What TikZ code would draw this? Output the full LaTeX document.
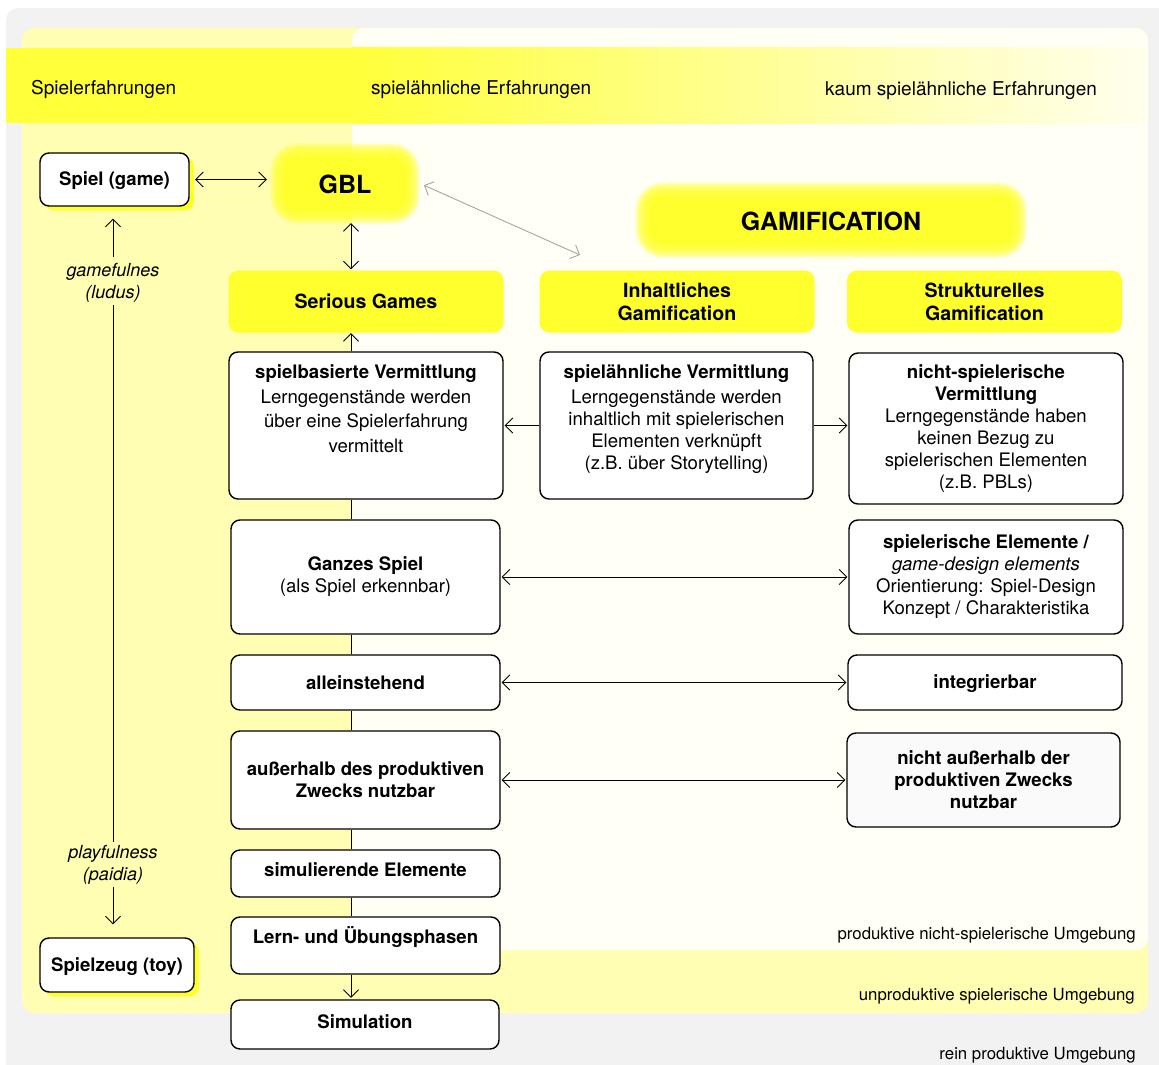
\documentclass[tikz,border=0pt]{standalone}
\usepackage{fontspec}
\setmainfont{TeX Gyre Heros}
\usetikzlibrary{arrows.meta,shadows}

\definecolor{ybright}{RGB}{255,255,46}
\definecolor{yband}{RGB}{255,255,58}
\definecolor{ypale}{RGB}{255,254,178}
\definecolor{cream}{RGB}{255,255,245}
\definecolor{bandend}{RGB}{255,255,238}
\definecolor{bggray}{RGB}{242,242,242}
\definecolor{arrgray}{RGB}{165,165,165}
\definecolor{boxgray}{RGB}{250,250,250}

\newcommand{\bodyfont}{\fontsize{18.6}{22}\selectfont}

\begin{document}
\begin{tikzpicture}[x=1pt,y=-1pt,
  box/.style={draw=black, line width=1.4pt, fill=white, rounded corners=9pt,
    align=center, inner sep=0pt, font=\bodyfont},
  headbox/.style={fill=ybright, rounded corners=10pt, align=center, inner sep=0pt,
    minimum width=275pt, minimum height=62pt,
    font=\bfseries\fontsize{19.6}{23}\selectfont},
  glowtext/.style={inner sep=0pt, font=\bfseries\fontsize{25}{28}\selectfont},
  bandtext/.style={inner sep=0pt, anchor=base west, font=\fontsize{19}{22}\selectfont},
  envtext/.style={inner sep=0pt, anchor=east, font=\fontsize{16.8}{20}\selectfont},
  sidelabel/.style={inner sep=3pt, align=center, font=\itshape\fontsize{18}{22}\selectfont},
  yshadow/.style={drop shadow={fill=ybright, opacity=1, shadow xshift=5pt, shadow yshift=-4.5pt}},
  tip/.tip={Straight Barb[length=7.5pt,width=15pt]},
  conn/.style={line width=0.9pt},
  biarr/.style={conn, tip-tip},
  onearr/.style={conn, -tip},
]
\useasboundingbox (0,0) rectangle (1159,1065);
\clip (0,0) rectangle (1159,1065);

% ---------- backgrounds: environments ----------
\fill[white] (0,0) rectangle (1159,1065);
\fill[bggray, rounded corners=12pt] (6,8) rectangle (1180,1090);
\fill[ypale, rounded corners=12pt] (22,28) rectangle (1148,1013);
\fill[cream, rounded corners=12pt] (352,28) rectangle (1148,950);

% ---------- experience band ----------
\fill[yband] (6,48) rectangle (353,123);
\shade[left color=yband, right color=bandend] (352,48) rectangle (1148,123);
\node[bandtext] (b1) at (31,94.5) {Spielerfahrungen};
\node[bandtext] (b2) at (371,94.5) {spielähnliche Erfahrungen};
\node[bandtext] (b3) at (825,95.5) {kaum spielähnliche Erfahrungen};

% ---------- soft glows ----------
\foreach \d in {0.7,1.4,...,14.1} {
  \pgfmathsetmacro\r{14+\d}
  \fill[ybright, opacity=0.12, rounded corners=\r pt] ({284-\d},{157-\d}) rectangle ({406+\d},{210+\d});
  \fill[ybright, opacity=0.12, rounded corners=\r pt] ({649-\d},{196-\d}) rectangle ({1013+\d},{244+\d});
}
\fill[ybright, rounded corners=14pt] (284,157) rectangle (406,210);
\fill[ybright, rounded corners=14pt] (649,196) rectangle (1013,244);

\node[glowtext, minimum width=152pt, minimum height=77pt] (gbl) at (345,184) {GBL};
\node[glowtext, minimum width=392pt, minimum height=76pt] (gam) at (831,221) {GAMIFICATION};

% ---------- left axis ----------
\node[box, yshadow, minimum width=149pt, minimum height=53pt, text height=17pt, font=\bfseries\bodyfont] (spiel) at (114.5,179.5) {Spiel (game)};
\node[box, yshadow, minimum width=154pt, minimum height=54pt, text height=18pt, font=\bfseries\bodyfont] (toy) at (117,965) {Spielzeug (toy)};
\node[sidelabel] (ludus) at (113,282.5) {gamefulnes\\(ludus)};
\node[sidelabel] (paidia) at (113,864.5) {playfulness\\(paidia)};

% ---------- headings ----------
\node[headbox] (serious) at (366,301.5) {Serious Games};
\node[headbox] (inhalt) at (677,301.5) {Inhaltliches\\Gamification};
\node[headbox] (struktur) at (984.5,301.5) {Strukturelles\\Gamification};

% ---------- main column ----------
\node[box, minimum width=274pt, minimum height=147pt] (sbv) at (366,425.5)
  {\parbox[c][121pt][t]{264pt}{\centering\fontsize{18.6}{24.5}\selectfont
   \textbf{spielbasierte Vermittlung}\\Lerngegenstände werden\\über eine Spielerfahrung\\vermittelt}};
\node[box, minimum width=273pt, minimum height=147pt] (sav) at (676.5,425.5)
  {\parbox[c][121pt][t]{264pt}{\centering\fontsize{18.6}{22}\selectfont
   \textbf{spielähnliche Vermittlung}\\[3pt]Lerngegenstände werden\\inhaltlich mit spielerischen\\Elementen verknüpft\\(z.B. über Storytelling)}};
\node[box, minimum width=274pt, minimum height=151pt] (nsv) at (986,428.5)
  {\textbf{nicht-spielerische}\\\textbf{Vermittlung}\\Lerngegenstände haben\\keinen Bezug zu\\spielerischen Elementen\\(z.B. PBLs)};

\node[box, minimum width=269pt, minimum height=114pt] (ganz) at (365.5,577)
  {\textbf{Ganzes Spiel}\\(als Spiel erkennbar)};
\node[box, minimum width=274pt, minimum height=114pt] (elem) at (986,577)
  {\textbf{spielerische Elemente /}\\\textit{game-design elements}\\Orientierung: Spiel-Design\\Konzept / Charakteristika};

\node[box, minimum width=269pt, minimum height=55pt, font=\bfseries\bodyfont] (allein) at (365.5,682.5) {alleinstehend};
\node[box, minimum width=274pt, minimum height=55pt, font=\bfseries\bodyfont, text depth=1pt] (integ) at (985,682.5) {integrierbar};

\node[box, minimum width=269pt, minimum height=98pt, font=\bfseries\bodyfont] (ausser) at (365.5,780)
  {außerhalb des produktiven\\Zwecks nutzbar};
\node[box, fill=boxgray, minimum width=273pt, minimum height=94pt, font=\bfseries\bodyfont] (nicht) at (983.5,780)
  {nicht außerhalb der\\produktiven Zwecks\\nutzbar};

\node[box, minimum width=269pt, minimum height=47pt, font=\bfseries\bodyfont, text depth=7pt] (simel) at (365.5,873.5) {simulierende Elemente};
\node[box, minimum width=269pt, minimum height=57pt] (lern) at (365.5,945.5)
  {\parbox[c][37pt][t]{260pt}{\centering\bfseries Lern- und Übungsphasen}};
\node[box, minimum width=268pt, minimum height=49pt, font=\bfseries\bodyfont, text depth=6pt] (simul) at (365,1024.5) {Simulation};

% ---------- environment labels ----------
\node[envtext] (env1) at (1136,935) {produktive nicht-spielerische Umgebung};
\node[envtext] (env2) at (1135,996) {unproduktive spielerische Umgebung};
\node[envtext] (env3) at (1136,1055) {rein produktive Umgebung};

% ---------- connectors ----------
\coordinate (ax) at (351,0);
\coordinate (gmend) at (580,255);

\draw[biarr, shorten <=5.5pt, shorten >=2pt] (spiel.east) -- (spiel.east -| gbl.west);
\draw[biarr, draw=arrgray, shorten <=3pt] (gbl.east) -- (gmend);
\draw[biarr, shorten <=0.5pt, shorten >=1pt] (ax |- gbl.south) -- (ax |- serious.north);
\draw[onearr, shorten >=0.5pt] (ax |- sbv.north) -- (ax |- serious.south);

\draw[conn] (ax |- sbv.south) -- (ax |- ganz.north);
\draw[conn] (ax |- ganz.south) -- (ax |- allein.north);
\draw[conn] (ax |- allein.south) -- (ax |- ausser.north);
\draw[conn] (ax |- ausser.south) -- (ax |- simel.north);
\draw[conn] (ax |- simel.south) -- (ax |- lern.north);
\draw[onearr, shorten >=1.5pt] (ax |- lern.south) -- (ax |- simul.north);

\draw[onearr, shorten >=1pt] (sav.west) -- (sav.west -| sbv.east);
\draw[onearr, shorten >=1pt] (sav.east) -- (sav.east -| nsv.west);
\draw[biarr, shorten <=1pt, shorten >=1pt] (ganz.east) -- (ganz.east -| elem.west);
\draw[biarr, shorten <=1pt, shorten >=1pt] (allein.east) -- (allein.east -| integ.west);
\draw[biarr, shorten <=1pt, shorten >=1pt] (ausser.east) -- (ausser.east -| nicht.west);

\draw[onearr, shorten <=3pt, shorten >=12pt] (ludus.north) -- (ludus.north |- spiel.south);
\draw[conn] (ludus.south) -- (paidia.north);
\draw[onearr, shorten >=13pt] (paidia.south) -- (paidia.south |- toy.north);
\end{tikzpicture}
\end{document}
